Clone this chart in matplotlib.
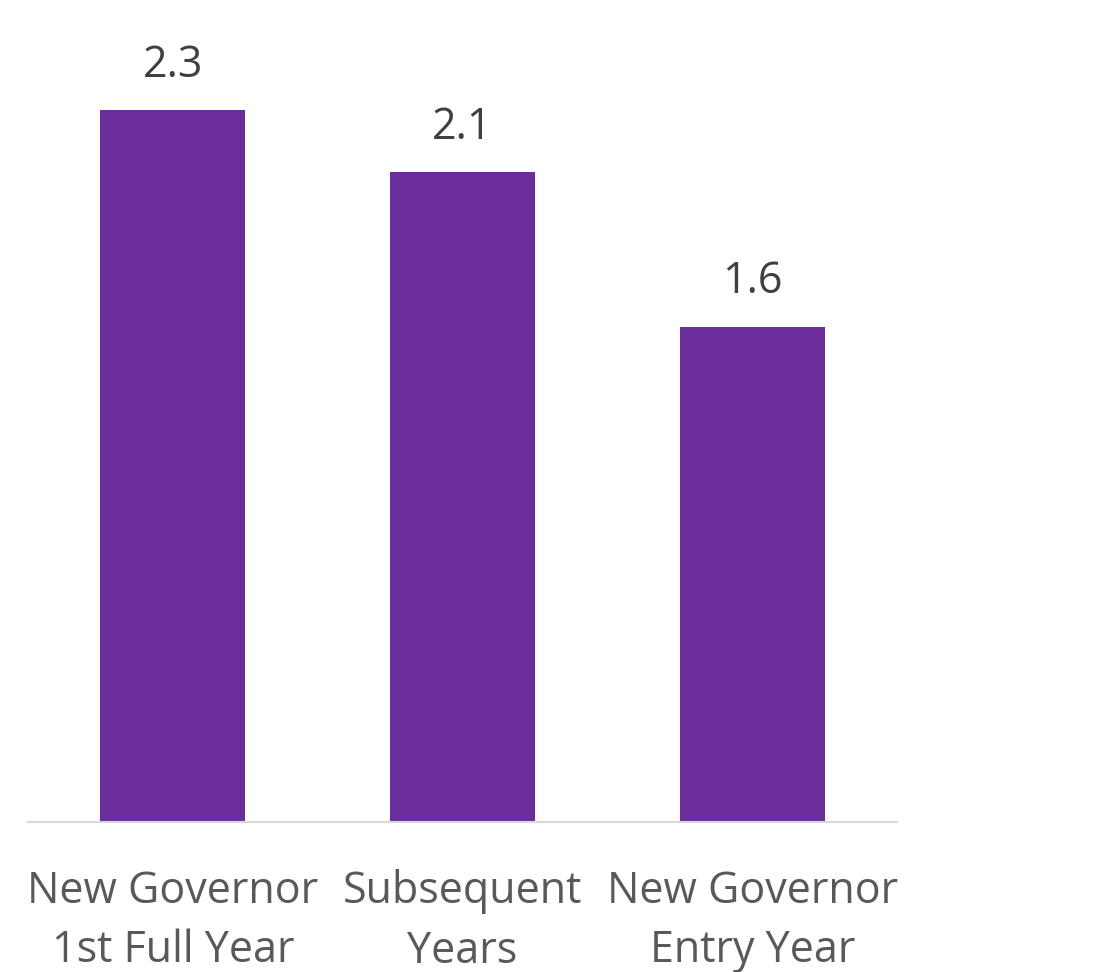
import matplotlib.pyplot as plt

categories = ["New Governor\n1st Full Year", "Subsequent\nYears", "New Governor\nEntry Year"]
values = [2.3, 2.1, 1.6]

plt.rcParams['font.family'] = ['Open Sans', 'DejaVu Sans']

fig = plt.figure(figsize=(11, 9.72), dpi=100)
ax = fig.add_axes([0.0255, 0.1543, 0.79, 0.828])

x = range(len(values))
bars = ax.bar(x, values, width=0.5, color='#6B2D9B')

for xi, v in zip(x, values):
    ax.annotate(f"{v:.1f}", (xi, v), xytext=(0, 24), textcoords='offset points',
                ha='center', va='baseline', fontsize=31, color='#404040')

ax.set_xlim(-0.5, 2.5)
ax.set_ylim(0, 2.6)
ax.set_xticks(list(x))
ax.set_xticklabels(categories, fontsize=31, color='#595959', linespacing=1.45)
ax.tick_params(axis='x', length=0, pad=34)
ax.set_yticks([])
for s in ['top', 'right', 'left']:
    ax.spines[s].set_visible(False)
ax.spines['bottom'].set_color('#D9D9D9')
ax.spines['bottom'].set_linewidth(1.5)

fig.savefig('out.png', dpi=100)
